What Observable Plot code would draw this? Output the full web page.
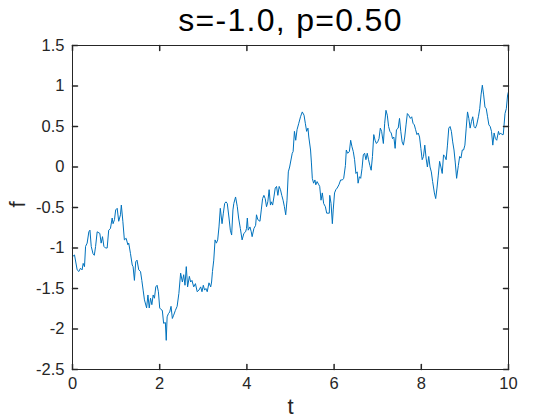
<!DOCTYPE html>
<html>
<head>
<meta charset="utf-8">
<script src="https://cdn.jsdelivr.net/npm/d3@7"></script>
<script src="https://cdn.jsdelivr.net/npm/@observablehq/plot@0.6"></script>
<style>
  html, body { margin: 0; padding: 0; background: #fff; }
</style>
</head>
<body>
<div id="chart"></div>
<script>
const titleText = "s=-1.0, p=0.50";
const xLabel = "t";
const yLabel = "f";
const xTicks = [0, 2, 4, 6, 8, 10];
const yTicks = [-2.5, -2, -1.5, -1, -0.5, 0, 0.5, 1, 1.5];

const tValues = [
  0, 0.046, 0.107, 0.145, 0.183, 0.22, 0.245, 0.275, 0.30, 0.336, 0.375, 0.40, 0.43, 0.47, 0.50, 0.53, 0.566, 0.627, 0.657, 0.688,
  0.72, 0.757, 0.795, 0.83, 0.87, 0.91, 0.93, 0.963, 0.99, 1.025, 1.06, 1.10, 1.12, 1.155, 1.19, 1.23, 1.27, 1.29, 1.33, 1.37,
  1.39, 1.42, 1.45, 1.48, 1.52, 1.56, 1.59, 1.62, 1.65, 1.70, 1.73, 1.76, 1.79, 1.82, 1.85, 1.88, 1.91, 1.94, 1.97, 2.00,
  2.03, 2.06, 2.09, 2.13, 2.15, 2.17, 2.20, 2.23, 2.26, 2.29, 2.32, 2.36, 2.40, 2.44,
  2.48, 2.52, 2.55, 2.58, 2.61, 2.64, 2.68, 2.71, 2.74, 2.78, 2.82, 2.86, 2.90, 2.94, 2.97, 3.00, 3.03, 3.06, 3.09, 3.13,
  3.17, 3.19, 3.21, 3.24, 3.27, 3.30, 3.33, 3.36, 3.39, 3.43, 3.46, 3.49, 3.52, 3.55, 3.59, 3.62, 3.65, 3.68, 3.70, 3.74,
  3.78, 3.81, 3.85, 3.89, 3.93, 3.97, 3.99, 4.01, 4.03, 4.07, 4.10, 4.12, 4.16, 4.20, 4.22, 4.25, 4.30, 4.33, 4.36, 4.39,
  4.42, 4.45, 4.48, 4.51, 4.54, 4.56, 4.59, 4.62, 4.65, 4.68, 4.71, 4.74, 4.77, 4.80, 4.83, 4.86, 4.89, 4.92, 4.95, 4.98,
  5.04, 5.06, 5.09, 5.12, 5.15, 5.19, 5.23, 5.27, 5.31, 5.34, 5.37, 5.40, 5.42, 5.46, 5.48, 5.50, 5.53, 5.56, 5.58, 5.61,
  5.65, 5.67, 5.70, 5.73, 5.76, 5.80, 5.83, 5.86, 5.89, 5.90, 5.93, 5.96, 5.98, 6.01, 6.04, 6.07, 6.11, 6.15, 6.19, 6.22,
  6.26, 6.28, 6.31, 6.35, 6.38, 6.41, 6.44, 6.47, 6.50, 6.53, 6.55, 6.58, 6.61, 6.64, 6.67, 6.70, 6.73, 6.76, 6.79, 6.82,
  6.85, 6.88, 6.91, 6.94, 6.97, 7.00, 7.03, 7.06, 7.09, 7.13, 7.16, 7.19, 7.22, 7.25, 7.28, 7.31, 7.34, 7.37, 7.40,
  7.43, 7.47, 7.50, 7.53, 7.56, 7.59, 7.62, 7.65, 7.68, 7.71, 7.75, 7.78, 7.81, 7.84, 7.87, 7.90, 7.93, 7.96, 7.99, 8.02,
  8.05, 8.08, 8.11, 8.14, 8.17, 8.20, 8.23, 8.26, 8.30, 8.33, 8.36, 8.39, 8.42, 8.45, 8.48, 8.51, 8.54, 8.57, 8.60, 8.63,
  8.66, 8.69, 8.72, 8.75, 8.78, 8.81, 8.85, 8.88, 8.91, 8.94, 8.97, 9.00, 9.03, 9.06, 9.09, 9.12, 9.15, 9.18, 9.21, 9.24,
  9.27, 9.31, 9.34, 9.37, 9.40, 9.43, 9.46, 9.49, 9.52, 9.55, 9.58, 9.61, 9.64, 9.67, 9.70, 9.73, 9.77, 9.79, 9.82, 9.85,
  9.88, 9.92, 9.95, 9.98, 10.00
];

const fValues = [
  -1.107, -1.086, -1.27, -1.29, -1.25, -1.27, -1.19, -1.23, -0.98, -0.94, -0.80, -0.78, -0.98, -1.07, -1.09, -0.98, -0.80, -0.82, -0.94, -0.86,
  -0.98, -1.00, -1.00, -0.78, -0.76, -0.63, -0.70, -0.65, -0.53, -0.51, -0.67, -0.59, -0.47, -0.67, -0.90, -0.88, -0.96, -0.94, -1.07, -1.21,
  -1.23, -1.40, -1.17, -1.15, -1.27, -1.29, -1.40, -1.52, -1.64, -1.74, -1.58, -1.74, -1.62, -1.70, -1.58, -1.62, -1.48, -1.46, -1.54, -1.74,
  -1.76, -1.77, -1.93, -1.92, -2.14, -1.85, -1.81, -1.79, -1.72, -1.87, -1.83, -1.77, -1.72, -1.56,
  -1.31, -1.42, -1.33, -1.46, -1.23, -1.48, -1.35, -1.42, -1.40, -1.48, -1.44, -1.54, -1.52, -1.48, -1.54, -1.46, -1.52, -1.50, -1.54, -1.43,
  -1.48, -1.42, -1.29, -1.15, -0.90, -0.94, -0.90, -0.74, -0.51, -0.70, -0.57, -0.45, -0.43, -0.45, -0.63, -0.78, -0.84, -0.53, -0.45, -0.37,
  -0.49, -0.63, -0.76, -0.90, -0.82, -0.80, -0.76, -0.63, -0.78, -0.74, -0.80, -0.86, -0.76, -0.72, -0.59, -0.65, -0.67, -0.53, -0.39, -0.35,
  -0.39, -0.49, -0.43, -0.28, -0.47, -0.43, -0.47, -0.37, -0.26, -0.24, -0.35, -0.24, -0.28, -0.35, -0.41, -0.49, -0.59, -0.41, -0.06, 0.00,
  0.17, 0.19, 0.44, 0.33, 0.46, 0.54, 0.62, 0.68, 0.64, 0.54, 0.44, 0.48, 0.37, 0.21, 0.05, -0.14, -0.20, -0.16, -0.22, -0.18,
  -0.22, -0.24, -0.41, -0.32, -0.45, -0.49, -0.57, -0.57, -0.57, -0.35, -0.45, -0.70, -0.53, -0.32, -0.28, -0.26, -0.22, -0.16, -0.16, -0.14,
  0.02, 0.21, 0.17, 0.19, 0.33, 0.25, 0.19, 0.09, -0.08, -0.06, -0.20, -0.12, -0.14, -0.02, 0.15, 0.17, 0.09, 0.17, 0.09, 0.02,
  -0.04, 0.13, 0.40, 0.33, 0.29, 0.31, 0.35, 0.48, 0.44, 0.29, 0.54, 0.70, 0.64, 0.50, 0.44, 0.42, 0.35, 0.37, 0.23,
  0.46, 0.48, 0.60, 0.44, 0.31, 0.27, 0.37, 0.52, 0.66, 0.64, 0.60, 0.62, 0.54, 0.52, 0.46, 0.40, 0.42, 0.37, 0.23, 0.09,
  0.13, 0.27, 0.11, 0.00, 0.13, 0.00, -0.06, -0.18, -0.32, -0.39, -0.26, -0.10, 0.07, 0.00, -0.08, 0.15, 0.13, 0.09, 0.27, 0.48,
  0.50, 0.44, 0.31, 0.21, 0.05, -0.14, 0.02, 0.13, 0.11, 0.21, 0.21, 0.27, 0.48, 0.68, 0.60, 0.48, 0.56, 0.62, 0.50, 0.48,
  0.52, 0.62, 0.72, 0.89, 1.01, 0.89, 0.74, 0.72, 0.62, 0.52, 0.50, 0.44, 0.27, 0.42, 0.35, 0.33, 0.44, 0.40, 0.42, 0.40,
  0.40, 0.66, 0.72, 0.89, 0.93
];

const series = tValues.map((t, i) => ({t, f: fValues[i]}));

const axisColor = "#262626";
const lineColor = "#0072BD";
const tickShape = {draw(context, l) { context.moveTo(0, 0); context.lineTo(0, -l); }};

const chart = Plot.plot({
  width: 560,
  height: 420,
  marginLeft: 72,
  marginRight: 52,
  marginTop: 45,
  marginBottom: 51,
  style: {fontFamily: "'Liberation Sans', Arial, Helvetica, sans-serif", color: axisColor, background: "#fff"},
  x: {domain: [0, 10]},
  y: {domain: [-2.5, 1.5]},
  marks: [
    Plot.line(series, {x: "t", y: "f", stroke: lineColor, strokeWidth: 1}),
    Plot.frame({stroke: axisColor, strokeWidth: 1}),
    Plot.vector(xTicks, {x: d => d, frameAnchor: "bottom", rotate: 0, length: 5, anchor: "start", shape: tickShape, stroke: axisColor}),
    Plot.vector(xTicks, {x: d => d, frameAnchor: "top", rotate: 180, length: 5, anchor: "start", shape: tickShape, stroke: axisColor}),
    Plot.vector(yTicks, {y: d => d, frameAnchor: "left", rotate: 90, length: 5, anchor: "start", shape: tickShape, stroke: axisColor}),
    Plot.vector(yTicks, {y: d => d, frameAnchor: "right", rotate: -90, length: 5, anchor: "start", shape: tickShape, stroke: axisColor}),
    Plot.axisX({ticks: xTicks, tickSize: 0, tickPadding: 8, fontSize: 16.5, label: null, tickFormat: d => String(d)}),
    Plot.axisY({ticks: yTicks, tickSize: 0, tickPadding: 8, fontSize: 16.5, label: null, tickFormat: d => String(d)}),
    Plot.text([xLabel], {text: d => d, frameAnchor: "bottom", lineAnchor: "bottom", dy: 44, fontSize: 22, fill: axisColor}),
    Plot.text([yLabel], {text: d => d, frameAnchor: "left", lineAnchor: "middle", dx: -55, rotate: -90, fontSize: 22, fill: axisColor}),
    Plot.text([titleText], {text: d => d, frameAnchor: "top", lineAnchor: "bottom", dy: -15, fontSize: 32, fill: "#000"})
  ]
});

chart.querySelectorAll("text").forEach(el => {
  if (el.textContent === titleText) el.setAttribute("letter-spacing", "1.3");
});

document.getElementById("chart").appendChild(chart);
</script>
</body>
</html>
